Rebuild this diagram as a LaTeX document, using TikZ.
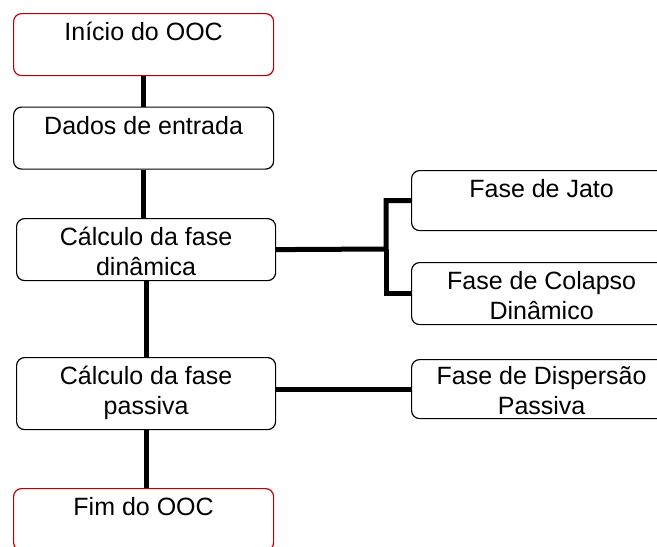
\documentclass[tikz,border=0pt]{standalone}
\usepackage{fontspec}
\setmainfont{Liberation Sans}
\definecolor{boxred}{RGB}{192,0,0}
\begin{document}
\begin{tikzpicture}[x=1pt,y=-1pt,line join=miter]
	\tikzset{etapa/.style={draw,rounded corners=8pt,line width=1.2pt,minimum width=260pt,inner sep=0pt,align=center,text height=27pt,text depth=35pt,anchor=north west,font=\fontsize{25}{30}\selectfont},
		duas/.style={etapa,text height=57pt,text depth=5pt},
		extremo/.style={etapa,draw=boxred},
		ligacao/.style={line width=5pt}}
	\useasboundingbox (0,0) rectangle (657,547);
	\node[extremo] (inicio) at (13,13) {Início do OOC};
	\node[etapa] (dados) at (13,106.5) {Dados de entrada};
	\node[duas,minimum width=259pt] (din) at (16,218) {Cálculo da fase\\dinâmica};
	\node[duas,minimum width=259pt,text depth=15pt] (passiva) at (16,357) {Cálculo da fase\\passiva};
	\node[extremo] (fim) at (13,488) {Fim do OOC};
	\node[etapa,text depth=33pt] (jato) at (411,170) {Fase de Jato};
	\node[duas] (colapso) at (411,262) {Fase de Colapso\\Dinâmico};
	\node[duas,text height=55pt,text depth=4pt] (dispersao) at (411,359) {Fase de Dispersão\\Passiva};
	\coordinate (ramo) at (386,249);
	\draw[ligacao] (inicio) -- (dados);
	\draw[ligacao] (dados.south) -- (dados.south |- din.north);
	\draw[ligacao] (din) -- (passiva);
	\draw[ligacao] (passiva.south) -- (passiva.south |- fim.north);
	\draw[ligacao] (din.east) -- (ramo) |- (jato.west);
	\draw[ligacao] (ramo) |- (colapso.west);
	\draw[ligacao] (dispersao.west -| passiva.east) -- (dispersao.west);
\end{tikzpicture}
\end{document}
